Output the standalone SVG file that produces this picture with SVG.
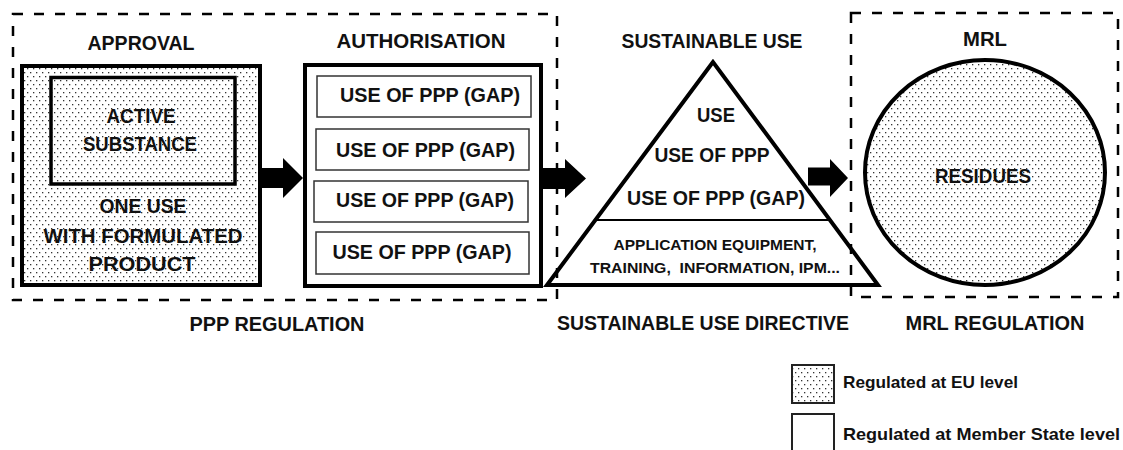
<svg xmlns="http://www.w3.org/2000/svg" width="1123" height="450" viewBox="0 0 1123 450">
<style>
text{font-family:"Liberation Sans",Arial,sans-serif;font-weight:bold;fill:#111;text-anchor:middle}
.big{font-size:19.5px}
.small{font-size:15px}
.leg{font-size:17px;text-anchor:start}
.thick{fill:none;stroke:#000;stroke-width:4;stroke-linejoin:miter}
.eu{fill:url(#dots)}
.ms{fill:#fff}
.inner{fill:#fff;stroke:#333;stroke-width:1.5}
.dash{fill:none;stroke:#000;stroke-width:2.5;stroke-dasharray:10 11}
.arrow{fill:#000}
</style>
<defs>
<pattern id="dots" width="6" height="8" patternUnits="userSpaceOnUse">
<rect width="6" height="8" fill="#fff"/>
<rect x="0" y="0" width="1.3" height="1.3" fill="#333"/>
<rect x="3" y="4" width="1.3" height="1.3" fill="#333"/>
</pattern>
</defs>
<rect width="1123" height="450" fill="#fff"/>

<g id="approval">
<rect class="eu" x="22" y="66" width="238" height="219"/>
<rect class="thick" x="22" y="66" width="238" height="219"/>
<rect class="thick" x="51" y="77.5" width="184" height="106.5" style="stroke-width:3.5"/>
<text class="big" x="141" y="50" textLength="107" lengthAdjust="spacingAndGlyphs">APPROVAL</text>
<text class="big" x="141" y="123" textLength="69" lengthAdjust="spacingAndGlyphs">ACTIVE</text>
<text class="big" x="140" y="151" textLength="114" lengthAdjust="spacingAndGlyphs">SUBSTANCE</text>
<text class="big" x="143" y="213" textLength="87" lengthAdjust="spacingAndGlyphs">ONE USE</text>
<text class="big" x="143" y="243" textLength="199" lengthAdjust="spacingAndGlyphs">WITH FORMULATED</text>
<text class="big" x="142" y="271" textLength="107" lengthAdjust="spacingAndGlyphs">PRODUCT</text>
</g>

<g id="authorisation">
<rect class="ms thick" x="305" y="65" width="236" height="221"/>
<rect class="inner" x="317" y="76" width="214" height="41"/>
<rect class="inner" x="316" y="129" width="213" height="41"/>
<rect class="inner" x="314" y="181" width="214" height="41"/>
<rect class="inner" x="316" y="232" width="213" height="42"/>
<text class="big" x="421" y="48" textLength="169" lengthAdjust="spacingAndGlyphs">AUTHORISATION</text>
<text class="big" x="430" y="102" textLength="180" lengthAdjust="spacingAndGlyphs">USE OF PPP (GAP)</text>
<text class="big" x="425.5" y="157" textLength="179" lengthAdjust="spacingAndGlyphs">USE OF PPP (GAP)</text>
<text class="big" x="425" y="207" textLength="178" lengthAdjust="spacingAndGlyphs">USE OF PPP (GAP)</text>
<text class="big" x="422" y="259" textLength="179" lengthAdjust="spacingAndGlyphs">USE OF PPP (GAP)</text>
</g>

<g id="sustainable-use">
<polygon class="ms" points="713,62 547,285 878,285"/>
<line x1="595" y1="220" x2="830" y2="220" stroke="#000" stroke-width="2"/>
<polygon class="thick" points="713,62 547,285 878,285"/>
<text class="big" x="712" y="48" textLength="181" lengthAdjust="spacingAndGlyphs">SUSTAINABLE USE</text>
<text class="big" x="716" y="122" textLength="38" lengthAdjust="spacingAndGlyphs">USE</text>
<text class="big" x="712" y="162" textLength="115" lengthAdjust="spacingAndGlyphs">USE OF PPP</text>
<text class="big" x="716" y="205" textLength="178" lengthAdjust="spacingAndGlyphs">USE OF PPP (GAP)</text>
<text class="small" x="715" y="250" textLength="203" lengthAdjust="spacingAndGlyphs">APPLICATION EQUIPMENT,</text>
<text class="small" x="715" y="273" textLength="250" lengthAdjust="spacingAndGlyphs" xml:space="preserve">TRAINING,  INFORMATION, IPM...</text>
</g>

<g id="mrl">
<ellipse class="eu" cx="985" cy="172.5" rx="120" ry="112.5"/>
<ellipse class="thick" cx="985" cy="172.5" rx="120" ry="112.5"/>
<text class="big" x="985" y="46" textLength="44" lengthAdjust="spacingAndGlyphs">MRL</text>
<text class="big" x="983" y="183" textLength="96" lengthAdjust="spacingAndGlyphs">RESIDUES</text>
</g>

<g id="connectors">
<polygon class="arrow" points="260,168 283,168 283,158 303,178 283,198 283,188 260,188"/>
<polygon class="arrow" points="541,168 565,168 565,159 586,178.5 565,198 565,189 541,189"/>
<polygon class="arrow" points="808,167.5 830,167.5 830,159 848,178 830,197 830,185.5 808,185.5"/>
</g>

<g id="regions">
<rect class="dash" x="13" y="14" width="544" height="286"/>
<rect class="dash" x="851" y="13" width="267" height="284"/>
<text class="big" x="277" y="331" textLength="175" lengthAdjust="spacingAndGlyphs">PPP REGULATION</text>
<text class="big" x="703" y="330" textLength="292" lengthAdjust="spacingAndGlyphs">SUSTAINABLE USE DIRECTIVE</text>
<text class="big" x="995" y="330" textLength="179" lengthAdjust="spacingAndGlyphs">MRL REGULATION</text>
</g>

<g id="legend">
<rect class="eu" x="792" y="365" width="42" height="38" stroke="#222" stroke-width="2"/>
<rect class="ms" x="792" y="414" width="42" height="40" stroke="#222" stroke-width="2"/>
<text class="leg" x="843" y="388" textLength="175" lengthAdjust="spacingAndGlyphs">Regulated at EU level</text>
<text class="leg" x="843" y="440" textLength="277" lengthAdjust="spacingAndGlyphs">Regulated at Member State level</text>
</g>
</svg>
